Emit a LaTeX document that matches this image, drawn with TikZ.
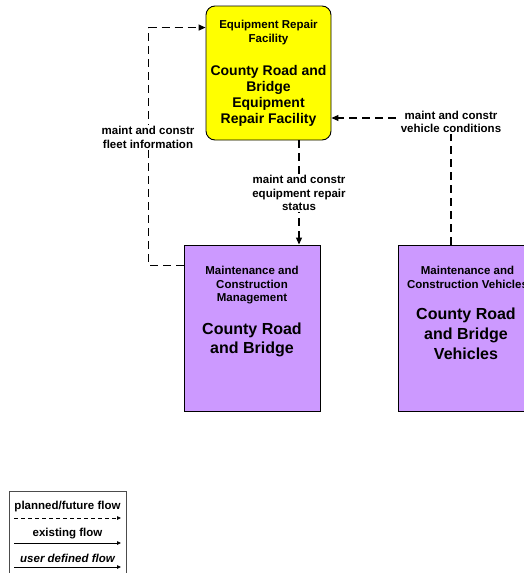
\documentclass[tikz,border=0pt]{standalone}
\usepackage{fontspec}
\setmainfont{Liberation Sans}
\usetikzlibrary{arrows.meta}
\definecolor{termyellow}{HTML}{FFFF00}
\definecolor{termpurple}{HTML}{CC99FF}
\newcommand{\smallbf}{\fontsize{11.5}{13.5}\selectfont\bfseries}
\tikzset{
  box/.style={draw, line width=0.9pt, inner sep=0pt, minimum width=136pt, minimum height=166pt},
  facility/.style={box, fill=termyellow, rounded corners=9pt, minimum width=125pt, minimum height=134pt},
  center/.style={box, fill=termpurple},
  boxtext/.style={align=center, inner sep=0pt, font=\smallbf},
  flowlabel/.style={align=center, inner sep=1.5pt, fill=white, font=\smallbf},
  planned/.style={line width=1.1pt, dash pattern=on 8pt off 5pt, -{Triangle[length=7pt,width=6pt]}},
  legendflow/.style={line width=0.8pt, -{Triangle[length=4pt,width=3.5pt]}}
}
\begin{document}
\begin{tikzpicture}[x=1pt, y=-1pt]
  \useasboundingbox (0,0) rectangle (524,573);
  \begin{scope}
    \clip (0,0) rectangle (524,573);
    % elements
    \node (repair) [facility] at (268.5,73) {};
    \node (mgmt) [center] at (252,328) {};
    \node (veh) [center] at (466,328) {};
    \node (repairclass) [boxtext] at (268.5,32.5) {Equipment Repair\\Facility};
    \node (repairname) [boxtext, font=\fontsize{14}{16}\selectfont\bfseries] at (268.5,96) {County Road and\\Bridge\\Equipment\\Repair Facility};
    \node (mgmtclass) [boxtext] at (252,285.5) {Maintenance and\\Construction\\Management};
    \node (mgmtname) [boxtext, font=\fontsize{16}{19.5}\selectfont\bfseries] at (252,340) {County Road\\and Bridge};
    \node (vehclass) [boxtext] at (467.5,277.5) {Maintenance and\\Construction Vehicles};
    \node (vehname) [boxtext, font=\fontsize{16}{20}\selectfont\bfseries] at (466,334) {County Road\\and Bridge\\Vehicles};
    % flows
    \draw[planned] ([yshift=-21pt]mgmt.north west) -- ++(-35,0) |- ([yshift=-22pt]repair.north west);
    \draw[planned] ([xshift=30.5pt]repair.south) -- ([xshift=47pt]mgmt.north);
    \draw[planned] ([xshift=-15pt]veh.north) |- ([yshift=-45pt]repair.east);
    \node (fleetinfo) [flowlabel] at (148,137.5) {maint and constr\\fleet information};
    \node (repairstatus) [flowlabel] at (299,193) {maint and constr\\equipment repair\\status};
    \node (vehcond) [flowlabel] at (451,122) {maint and constr\\vehicle conditions};
    % legend
    \draw[line width=0.8pt, draw=black!70] (9,491) rectangle (126,580);
    \node (lgplanned) [boxtext] at (67.5,507) {planned/future flow};
    \node (lgexisting) [boxtext] at (67.5,534) {existing flow};
    \node (lguser) [boxtext, font=\fontsize{11.5}{13.5}\selectfont\bfseries\itshape] at (67.5,558) {user defined flow};
    \coordinate (lp1) at (14,518); \coordinate (lp2) at (121,518);
    \coordinate (le1) at (14,543); \coordinate (le2) at (121,543);
    \coordinate (lu1) at (14,567); \coordinate (lu2) at (121,567);
    \draw[legendflow, dash pattern=on 4pt off 3pt] (lp1) -- (lp2);
    \draw[legendflow] (le1) -- (le2);
    \draw[legendflow] (lu1) -- (lu2);
  \end{scope}
\end{tikzpicture}
\end{document}
